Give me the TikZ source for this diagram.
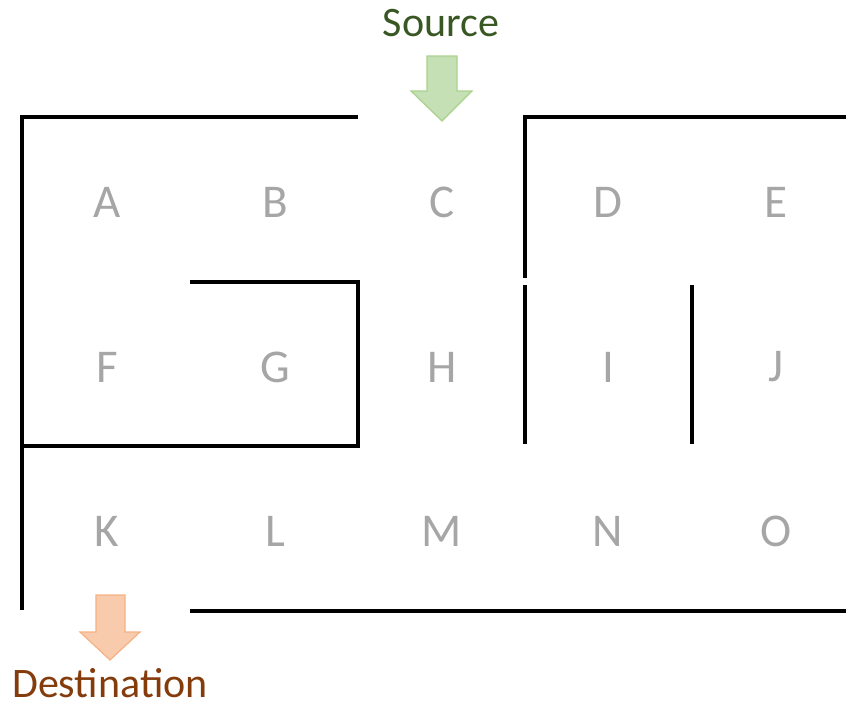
\documentclass[tikz,border=0pt]{standalone}
\usepackage{fontspec}
\setmainfont{Carlito}
\definecolor{cell}{HTML}{A6A6A6}
\definecolor{srcfill}{HTML}{C5E0B4}
\definecolor{srcline}{HTML}{A9D18E}
\definecolor{srctext}{HTML}{385723}
\definecolor{dstfill}{HTML}{F8CBAD}
\definecolor{dstline}{HTML}{F4B183}
\definecolor{dsttext}{HTML}{843C0C}
\begin{document}
\begin{tikzpicture}[x=1pt,y=-1pt,
  wall/.style={line width=4.3pt,black},
  cellname/.style={text=cell,font=\fontsize{47}{47}\selectfont,inner sep=0pt,anchor=center},
  label/.style={font=\fontsize{42}{42}\selectfont,inner sep=0pt,anchor=center}]
\useasboundingbox (0,0) rectangle (846,702);
% cells
\foreach \n/\x/\y in {A/107/202,B/275/202,C/442/202,D/608/202,E/776/202,
                      F/107/367,G/275/367,H/442/367,I/608/367,J/776/367,
                      K/107/531,L/275/531,M/442/531,N/608/531,O/776/531}
  \node[cellname] (\n) at (\x,\y) {\n};
% walls
\draw[wall] (358,117) -- (22,117) -- (22,446);
\draw[wall] (190,282) -- (358,282) -- (358,446) -- (22,446);
\draw[wall] (22,446) -- (22,610);
\draw[wall] (190,611) -- (846,611);
\draw[wall] (525,278) -- (525,117) -- (846,117);
\draw[wall] (525,285) -- (525,444);
\draw[wall] (692,285) -- (692,444);
% source
\node[label,text=srctext] (src) at (441,23) {Source};
\draw[fill=srcfill,draw=srcline,line width=1.2pt,line join=miter]
  (427,56) -- (457,56) -- (457,91) -- (472,91) -- (442,121) -- (411,91) -- (427,91) -- cycle;
% destination
\node[label,text=dsttext,text depth=0pt,anchor=base] (dst) at (110,697) {Destination};
\draw[fill=dstfill,draw=dstline,line width=1.2pt,line join=miter]
  (96,595) -- (125,595) -- (125,632) -- (140,632) -- (110,660) -- (80,632) -- (96,632) -- cycle;
\end{tikzpicture}
\end{document}
